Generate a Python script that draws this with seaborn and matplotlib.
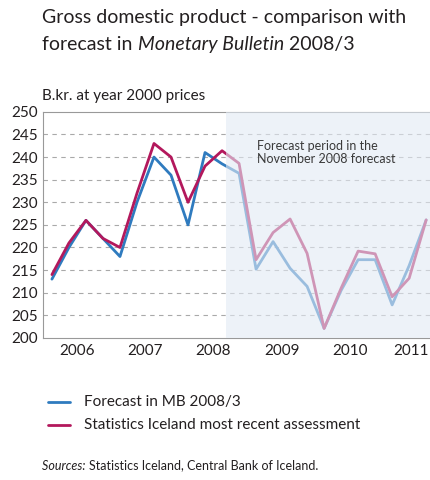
import numpy as np
import pandas as pd
import matplotlib.pyplot as plt
import matplotlib.transforms as mtransforms
import seaborn as sns

# quarterly GDP, B.kr. at year 2000 prices, Q1 2006 - Q3 2011
quarters = list(range(23))
forecast_mb = [213, 220, 226, 222, 218, 230, 240, 236, 225, 241, 238.5, 236.4,
               215.2, 221.3, 215.4, 211.4, 202.1, 210.5, 217.3, 217.3, 207.3, 216, 226.1]
statice = [214, 221, 226, 222, 220, 232, 243, 240, 230, 238, 241.4, 238.6,
           217.3, 223.3, 226.3, 218.7, 202.1, 211, 219.2, 218.6, 209.1, 213.2, 226.1]
years = ['2006', '2007', '2008', '2009', '2010', '2011']
forecast_start = 10.25

df = pd.DataFrame({
    'quarter': quarters * 2,
    'value': forecast_mb + statice,
    'series': ['Forecast in MB 2008/3'] * 23 + ['Statistics Iceland most recent assessment'] * 23,
})

sns.set_style('white')
plt.rcParams['font.family'] = ['Lato', 'DejaVu Sans']
text_col = '#231f20'

fig = plt.figure(figsize=(4.3, 4.8), dpi=100)
ax = fig.add_axes([0.099, 0.296, 0.902, 0.471])

colors = {'Forecast in MB 2008/3': '#2f7bbf',
          'Statistics Iceland most recent assessment': '#b3185c'}
sns.lineplot(data=df, x='quarter', y='value', hue='series', palette=colors,
             linewidth=2.0, ax=ax, legend=False, zorder=3)

# forecast period shading drawn over the lines (fades them like the original)
ax.axvspan(forecast_start, 23, color='#e2eaf4', alpha=0.6, zorder=4, lw=0)

ax.set_xlim(-0.55, 22.25)
ax.set_ylim(200, 250)
ax.set_yticks(np.arange(200, 251, 5))
for y in np.arange(205, 250, 5):
    ax.axhline(y, color='#a9a9a9', linestyle=(0, (4, 4)), linewidth=0.8, zorder=1)

ax.set_xticks([3.5 + 4 * i for i in range(5)])
ax.set_xticklabels([])
ax.tick_params(axis='x', length=4, width=0.8, color='#888888', direction='out')
ax.tick_params(axis='y', length=0, labelsize=11, labelcolor=text_col, pad=3)
edge = mtransforms.blended_transform_factory(fig.transFigure, ax.transData)
for i, yr in enumerate(years):
    if i == len(years) - 1:
        # last year is cut by the figure edge: right-align it inside
        ax.text(0.997, 198.6, yr, ha='right', va='top', fontsize=11, color=text_col,
                transform=edge, clip_on=False)
    else:
        ax.text(1.5 + 4 * i, 198.6, yr, ha='center', va='top', fontsize=11,
                color=text_col, clip_on=False)
ax.set_xlabel('')
ax.set_ylabel('')
for s in ['left', 'bottom', 'top']:
    ax.spines[s].set_color('#999999')
    ax.spines[s].set_linewidth(0.8)
ax.spines['right'].set_visible(False)

ax.text(12.05, 243.8, 'Forecast period in the\nNovember 2008 forecast', fontsize=9,
        color='#3a3a3a', va='top', ha='left', linespacing=1.1, zorder=5)

# titles
tsize = 14
fig.text(0.098, 0.963, 'Gross domestic product - comparison with', fontsize=tsize,
         color=text_col, va='center')
t_a = fig.text(0.098, 0.908, 'forecast in ', fontsize=tsize, color=text_col, va='center')
fig.canvas.draw()
r = fig.canvas.get_renderer()
x0 = 0.098
w = t_a.get_window_extent(r).width / fig.bbox.width
t_b = fig.text(x0 + w, 0.908, 'Monetary Bulletin', fontsize=tsize, style='italic',
               color=text_col, va='center')
w2 = t_b.get_window_extent(r).width / fig.bbox.width
fig.text(x0 + w + w2, 0.908, ' 2008/3', fontsize=tsize, color=text_col, va='center')

fig.text(0.098, 0.8, 'B.kr. at year 2000 prices', fontsize=11, color=text_col, va='center')

# legend
for yy, key in [(0.163, 'Forecast in MB 2008/3'),
                (0.115, 'Statistics Iceland most recent assessment')]:
    fig.add_artist(plt.Line2D([0.112, 0.163], [yy, yy], color=colors[key], lw=2,
                              transform=fig.transFigure))
    fig.text(0.195, yy, key, fontsize=11, color=text_col, va='center')

s1 = fig.text(0.098, 0.03, 'Sources: ', fontsize=9, style='italic', color=text_col, va='center')
ws = s1.get_window_extent(r).width / fig.bbox.width
fig.text(0.098 + ws, 0.03, 'Statistics Iceland, Central Bank of Iceland.', fontsize=9,
         color=text_col, va='center')

fig.savefig('out.png', dpi=100)
